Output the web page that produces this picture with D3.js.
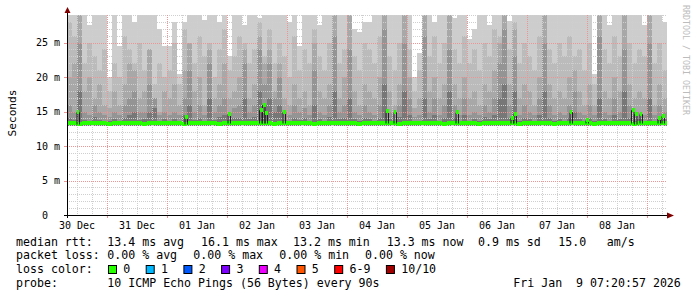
<!DOCTYPE html>
<html>
<head>
<meta charset="utf-8">
<script src="https://cdn.jsdelivr.net/npm/d3@7"></script>
<style>
  body { margin: 0; background: #fff; }
  svg text { font-family: "DejaVu Sans Mono", monospace; white-space: pre; }
</style>
</head>
<body>
<div id="chart"></div>
<script>
// smokeping graph, 10 days, one bucket = 2 hours

const startIso = "2025-12-30T08:00:00Z";
const endIso = "2026-01-09T08:00:00Z";
const bucketHours = 2;

const dayLabels = ["30 Dec", "31 Dec", "01 Jan", "02 Jan", "03 Jan", "04 Jan", "05 Jan", "06 Jan", "07 Jan", "08 Jan"];
const yTicks = [0, 5, 10, 15, 20, 25];
const yTickLabels = ["0  ", "5 m", "10 m", "15 m", "20 m", "25 m"];

// smoke: sorted pings, top of each band in ms (ping 10 .. ping 6)
const ping10 = [
  29, 29, 29, 29, 27.5, 29, 29, 29, 20, 29, 24.5, 29, 29, 28, 29, 29, 29, 29, 27, 24.5,
  24.5, 28, 20.5, 28, 29, 29, 29, 28.3, 29, 29, 28, 29, 23, 29, 29, 27.5, 29, 29, 28.5, 29,
  29, 29, 29, 29, 28, 29, 24.5, 29, 29, 29, 27.5, 29, 29, 23, 29, 29, 29, 27, 26.5, 28,
  28, 29, 29, 29, 29, 29, 29, 29, 29, 20, 23.5, 29, 29, 28, 29, 29, 29, 28.5, 29, 29,
  25.5, 27, 29, 29, 27.5, 29, 29, 29, 28.2, 29, 29, 29, 29, 29, 29, 29, 29, 29, 29, 29,
  29, 29, 29, 29, 29, 20.5, 29, 29, 27.5, 29, 29, 29, 29, 29, 29, 27.5, 29, 29, 29, 28
];
const ping9 = [
  28, 26, 29, 22, 25, 23, 21, 24, 18, 22, 20, 26, 24, 22, 25, 21, 23, 19, 22, 20,
  21, 25, 19, 27, 24, 22, 26, 23, 25, 20, 24, 27, 21, 23, 26, 25, 22, 24, 28, 23,
  27, 22, 25, 23, 20, 26, 21, 24, 22, 27, 23, 21, 25, 29, 22, 24, 29, 23, 21, 25,
  24, 22, 26, 29, 23, 21, 25, 29, 24, 18, 21, 29, 23, 26, 22, 25, 29, 24, 22, 26,
  22, 24, 21, 25, 23, 27, 26, 29, 24, 28, 22, 25, 23, 21, 26, 29, 24, 22, 25, 23,
  26, 23, 24, 21, 25, 19, 29, 24, 22, 26, 23, 29, 25, 22, 24, 23, 29, 22, 25, 21
];
const ping8 = [
  20, 22, 29, 18, 20, 17, 19, 16, 15.5, 18, 16, 19, 22, 21, 17, 18, 24, 17, 15, 18,
  17, 19, 16, 21, 25, 18, 20, 16, 24, 17, 19, 22, 17, 18, 20, 24, 17, 19, 26, 22,
  24, 18, 22, 17, 16, 19, 17, 18, 16, 25, 18, 17, 19, 29, 17, 20, 29, 18, 16, 19,
  18, 17, 20, 29, 18, 16, 19, 29, 20, 15.5, 17, 29, 18, 20, 17, 19, 29, 19, 17, 20,
  17, 18, 16, 19, 18, 21, 25, 29, 19, 27, 17, 19, 18, 16, 20, 29, 19, 17, 18, 17,
  20, 21, 18, 16, 19, 16, 29, 18, 17, 20, 18, 29, 19, 17, 18, 17, 29, 16, 19, 17
];
const ping7 = [
  16, 15, 25, 15, 14.5, 16, 15, 14.5, 14.2, 15, 14.5, 16, 17, 18, 15, 15, 19, 17, 14.5, 15,
  14.5, 15, 14.5, 17, 21, 15, 16, 14.5, 22, 15, 16, 17, 15, 15.5, 16, 22, 15, 16, 24, 19,
  22, 17, 20, 15, 14.5, 16, 15, 15.5, 14.5, 21, 15, 14.5, 16, 26, 15, 16, 24, 15, 14.5, 16,
  15, 14.5, 16, 27, 15, 14.5, 16, 25, 17, 14.2, 14.5, 26, 15, 17, 14.5, 16, 24, 16, 14.5, 17,
  14.5, 15, 14.5, 16, 15, 17, 22, 27, 16, 23, 14.5, 16, 15, 14.5, 17, 25, 16, 14.5, 15, 14.5,
  16, 18, 15, 14.5, 16, 14.5, 26, 15, 14.5, 17, 15, 24, 16, 14.5, 15, 14.5, 25, 14.5, 16, 15
];
const ping6 = [
  14, 13.8, 18, 13.8, 13.7, 14.2, 13.8, 13.7, 13.6, 13.9, 13.7, 14, 14.5, 15, 13.8, 13.9, 15, 15.5, 13.7, 13.9,
  13.7, 13.9, 13.7, 14.5, 16, 13.8, 14, 13.7, 17, 13.8, 14.2, 14.5, 13.8, 14, 14, 17, 13.9, 14.2, 18, 16,
  17, 15, 16, 13.8, 13.7, 14, 13.8, 14, 13.7, 16, 13.9, 13.7, 14.2, 18, 13.9, 14, 17, 13.9, 13.7, 14,
  13.9, 13.7, 14, 19, 13.9, 13.7, 14.2, 18, 14.5, 13.6, 13.7, 17, 13.9, 14.5, 13.7, 14, 18, 14, 13.7, 14.5,
  13.7, 13.9, 13.7, 14.2, 13.9, 14.5, 17, 19, 14, 18, 13.7, 14, 13.9, 13.7, 14.5, 18, 14, 13.7, 13.9, 13.7,
  14, 15, 13.9, 13.7, 14, 13.7, 17, 13.9, 13.7, 14.5, 13.9, 18, 14, 13.7, 13.9, 13.7, 17, 13.7, 14, 13.9
];
const minPingMs = 12.9;

const medianMs = [
  13.3, 13.3, 13.2, 13.3, 13.3, 13.4, 13.3, 13.3, 13.2, 13.3, 13.3, 13.3, 13.4, 13.3, 13.3, 13.2, 13.3, 13.3, 13.3, 13.4,
  13.3, 13.3, 13.3, 13.2, 13.3, 13.3, 13.4, 13.3, 13.3, 13.3, 13.2, 13.3, 13.3, 13.3, 13.4, 13.3, 13.3, 13.3, 13.4, 13.3,
  13.3, 13.2, 13.3, 13.3, 13.3, 13.3, 13.4, 13.3, 13.3, 13.2, 13.3, 13.3, 13.3, 13.3, 13.3, 13.4, 13.3, 13.3, 13.2, 13.3,
  13.3, 13.3, 13.4, 13.3, 13.3, 13.3, 13.2, 13.3, 13.3, 13.3, 13.4, 13.3, 13.3, 13.3, 13.3, 13.2, 13.3, 13.3, 13.4, 13.3,
  13.3, 13.3, 13.2, 13.3, 13.3, 13.4, 13.3, 13.3, 13.3, 13.3, 13.2, 13.3, 13.3, 13.3, 13.4, 13.3, 13.3, 13.2, 13.3, 13.3,
  13.3, 13.4, 13.3, 13.3, 13.3, 13.2, 13.3, 13.3, 13.3, 13.4, 13.3, 13.3, 13.3, 13.2, 13.3, 13.4, 13.3, 13.3, 13.4, 13.4
];
// short median jumps: hours after start, value in ms
const spikeHours = [4.0, 47.2, 64.4, 77.0, 78.2, 79.2, 86.4, 127.6, 130.8, 155.6, 177.6, 178.8, 201.2, 207.6, 225.8, 227.0, 229.2, 236.4, 238.0];
const spikeMs = [14.9, 14.2, 14.7, 15.2, 16.0, 14.8, 14.9, 15.1, 14.9, 15.0, 14.0, 14.7, 14.9, 13.8, 15.2, 14.6, 14.6, 14.1, 14.4];

const smokeColors = ["#cdcdcd", "#bbbbbb", "#a8a8a8", "#949494", "#777777"];

const rttTexts = ["median rtt:", "13.4 ms avg", "16.1 ms max", "13.2 ms min", "13.3 ms now", "0.9 ms sd", "15.0", "am/s"];
const lossTexts = ["packet loss:", "0.00 % avg", "0.00 % max", "0.00 % min", "0.00 % now"];
const lossLabels = ["0", "1", "2", "3", "4", "5", "6-9", "10/10"];
const lossColors = ["#26ff00", "#00b8ff", "#0059ff", "#7e00ff", "#ee00ff", "#ff5500", "#ff0000", "#a10000"];
const probeTexts = ["probe:", "10 ICMP Echo Pings (56 Bytes) every 90s", "Fri Jan  9 07:20:57 2026"];

const width = 697, height = 297;

const svg = d3.select("#chart").append("svg")
    .attr("width", width)
    .attr("height", height);

const start = new Date(startIso), end = new Date(endIso);
const x = d3.scaleUtc().domain([start, end]).range([67, 667]);
const y = d3.scaleLinear().domain([0, 29]).range([215, 15]).clamp(true);

const hourMs = 3600 * 1000;
const bucketTime = i => new Date(start.getTime() + i * bucketHours * hourMs);

function stepData(values) {
    const pts = values.map((v, i) => ({ t: bucketTime(i), v }));
    pts.push({ t: bucketTime(values.length), v: values[values.length - 1] });
    return pts;
}

// keeps double spaces inside legend strings
function pre(sel) {
    return sel.attr("xml:space", "preserve").style("white-space", "pre");
}

// smoke, lightest (widest) band first
const bands = [ping10, ping9, ping8, ping7, ping6];
const smokeArea = d3.area()
    .curve(d3.curveStepAfter)
    .x(d => x(d.t))
    .y0(y(minPingMs))
    .y1(d => y(d.v));

svg.append("g").selectAll("path")
    .data(bands)
    .enter().append("path")
    .attr("d", d => smokeArea(stepData(d)))
    .attr("fill", (d, i) => smokeColors[i])
    .attr("shape-rendering", "crispEdges");

// grid on top of the smoke
const grid = svg.append("g").attr("stroke-width", 1).attr("stroke-dasharray", "1,1").attr("fill", "none");
const snap = v => Math.round(v) + 0.5;

const minorHours = d3.utcHour.every(6).range(start, end).filter(d => d.getUTCHours() !== 0);
const majorDays = d3.utcDay.range(start, end);

grid.selectAll(".vmin").data(minorHours).enter().append("line")
    .attr("x1", d => snap(x(d))).attr("x2", d => snap(x(d)))
    .attr("y1", 15).attr("y2", 215)
    .attr("stroke", "#cfcfcf");

const minorMs = d3.range(1, 30).filter(v => v % 5 !== 0);
grid.selectAll(".hmin").data(minorMs).enter().append("line")
    .attr("x1", 67).attr("x2", 667)
    .attr("y1", d => snap(y(d))).attr("y2", d => snap(y(d)))
    .attr("stroke", "#cfcfcf");

grid.selectAll(".vmaj").data(majorDays).enter().append("line")
    .attr("x1", d => snap(x(d))).attr("x2", d => snap(x(d)))
    .attr("y1", 15).attr("y2", 215)
    .attr("stroke", "#eb9595");

grid.selectAll(".hmaj").data(yTicks.filter(v => v > 0)).enter().append("line")
    .attr("x1", 67).attr("x2", 667)
    .attr("y1", d => snap(y(d))).attr("y2", d => snap(y(d)))
    .attr("stroke", "#eb9595");

// median: dark line, loss-coloured band over it
const medianLine = d3.line().curve(d3.curveStepAfter).x(d => x(d.t)).y(d => snap(y(d.v)));
const bandArea = d3.area().curve(d3.curveStepAfter)
    .x(d => x(d.t))
    .y0(d => Math.round(y(d.v)) + 2)
    .y1(d => Math.round(y(d.v)) - 2);

const med = svg.append("g");
med.append("path")
    .attr("d", medianLine(stepData(medianMs)))
    .attr("fill", "none").attr("stroke", "#202020").attr("stroke-width", 1);
med.append("path")
    .attr("d", bandArea(stepData(medianMs)))
    .attr("fill", lossColors[0]);

const spikes = spikeHours.map((h, i) => {
    const t0 = new Date(start.getTime() + h * hourMs);
    const t1 = new Date(t0.getTime() + 1.0 * hourMs);
    const base = medianMs[Math.floor(h / bucketHours)];
    return [{ t: new Date(t0.getTime() - 1), v: base }, { t: t0, v: spikeMs[i] }, { t: t1, v: base }];
});
med.selectAll(".spk").data(spikes).enter().append("path")
    .attr("d", d => medianLine(d))
    .attr("fill", "none").attr("stroke", "#202020").attr("stroke-width", 1);
med.selectAll(".spkband").data(spikes).enter().append("rect")
    .attr("x", d => Math.round(x(d[1].t)))
    .attr("width", d => Math.max(2, Math.round(x(d[2].t) - x(d[1].t))))
    .attr("y", d => Math.round(y(d[1].v)) - 2)
    .attr("height", 4)
    .attr("fill", lossColors[0]);

// axes
const axisColor = "#000";
svg.append("line").attr("x1", 64).attr("x2", 670).attr("y1", 215.5).attr("y2", 215.5).attr("stroke", axisColor);
svg.append("line").attr("x1", 67.5).attr("x2", 67.5).attr("y1", 218).attr("y2", 12).attr("stroke", axisColor);
svg.append("path").attr("d", "M667,212.5L674,215.5L667,218.5Z").attr("fill", "#800000");
svg.append("path").attr("d", "M64.5,13L67.5,7L70.5,13Z").attr("fill", "#800000");

// small ticks
svg.append("g").selectAll("line").data(majorDays).enter().append("line")
    .attr("x1", d => snap(x(d))).attr("x2", d => snap(x(d)))
    .attr("y1", 216).attr("y2", 218).attr("stroke", "#eb9595");
svg.append("g").selectAll("line").data(yTicks.filter(v => v > 0)).enter().append("line")
    .attr("x1", 64).attr("x2", 67)
    .attr("y1", d => snap(y(d))).attr("y2", d => snap(y(d))).attr("stroke", "#eb9595");

// tick labels
const noonTimes = dayLabels.map((_, i) => new Date(Date.UTC(2025, 11, 30 + i, 12)));
svg.append("g").selectAll("text").data(dayLabels).enter().append("text")
    .attr("x", (d, i) => x(noonTimes[i]))
    .attr("y", 228.5)
    .attr("text-anchor", "middle")
    .attr("font-size", 10)
    .attr("fill", "#000")
    .text(d => d);

svg.append("g").selectAll("text").data(yTicks).enter().append("text")
    .call(pre)
    .attr("x", 60)
    .attr("y", d => y(d) + 3.6)
    .attr("text-anchor", "end")
    .attr("font-size", 10)
    .attr("fill", "#000")
    .text((d, i) => yTickLabels[i]);

svg.append("text")
    .attr("transform", "translate(15.5,113) rotate(-90)")
    .attr("text-anchor", "middle")
    .attr("font-size", 11.2)
    .attr("fill", "#000")
    .text("Seconds");

svg.append("text")
    .call(pre)
    .attr("transform", "translate(683,5) rotate(90)")
    .attr("font-size", 8.3)
    .attr("fill", "#bcbcbc")
    .text("RRDTOOL / TOBI OETIKER");

// legend
const legend = svg.append("g")
    .attr("font-size", 11.6)
    .attr("fill", "#000");

const rttX = [16, 107.3, 201, 293, 386.7, 478, 558.3, 606.7];
const lossX = [16, 107.3, 193.3, 279.3, 365];
const probeX = [16, 107.3, 513.3];
const rowY = [245.7, 259.4, 273.2, 286.9];

legend.selectAll(".rtt").data(rttTexts).enter().append("text").call(pre)
    .attr("x", (d, i) => rttX[i]).attr("y", rowY[0]).text(d => d);
legend.selectAll(".loss").data(lossTexts).enter().append("text").call(pre)
    .attr("x", (d, i) => lossX[i]).attr("y", rowY[1]).text(d => d);
legend.append("text").attr("x", 16).attr("y", rowY[2]).text("loss color:");

let sx = 108;
lossLabels.forEach((lab, i) => {
    legend.append("rect")
        .attr("x", sx + 0.5).attr("y", 265.5)
        .attr("width", 8).attr("height", 8)
        .attr("fill", lossColors[i])
        .attr("stroke", "#000").attr("stroke-width", 1);
    legend.append("text").attr("x", sx + 15.3).attr("y", rowY[2]).text(lab);
    sx += 15.3 + 7 * lab.length + 15.4;
});

legend.selectAll(".probe").data(probeTexts).enter().append("text").call(pre)
    .attr("x", (d, i) => probeX[i]).attr("y", rowY[3]).text(d => d);
</script>
</body>
</html>
